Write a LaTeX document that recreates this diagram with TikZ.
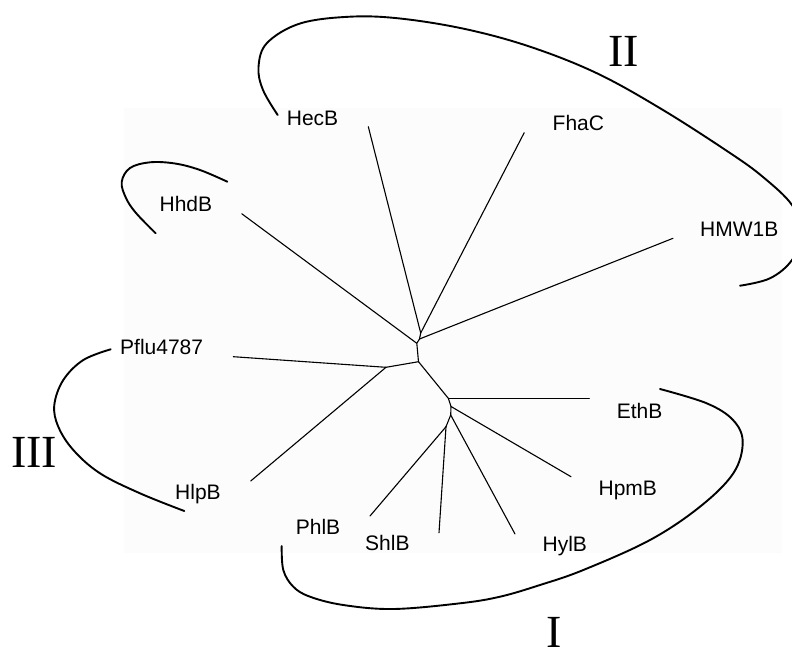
\documentclass[tikz,border=0pt]{standalone}
\usepackage{fontspec}
\setmainfont{Liberation Sans}
\newfontfamily\numfont{Liberation Serif}
\begin{document}
\begin{tikzpicture}[x=1pt,y=-1pt,
  branch/.style={line width=1.1pt, line cap=round},
  clade/.style={line width=1.9pt, line cap=round},
  taxon/.style={anchor=base west, inner sep=0pt, font=\fontsize{21}{25}\selectfont},
  numeral/.style={anchor=base west, inner sep=0pt, font=\numfont\fontsize{46}{50}\selectfont}]
\useasboundingbox (0,0) rectangle (792,648);
\fill[white] (0,0) rectangle (792,648);
\fill[black!1.2] (124,108) rectangle (782,553);

% internal nodes of the tree
\coordinate (nA) at (420.7,333);
\coordinate (nB) at (419.5,339);
\coordinate (nC) at (416.8,343.3);
\coordinate (nD) at (418.5,361.7);
\coordinate (nE) at (386,367.3);
\coordinate (nF) at (448.3,398.3);
\coordinate (nG) at (451,406.5);
\coordinate (nH) at (450.7,415);
\coordinate (nI) at (446,426.7);

% leaf tips
\coordinate (tHecB) at (368.3,126.7);
\coordinate (tFhaC) at (524.2,132.7);
\coordinate (tHMW) at (673,238.3);
\coordinate (tHhdB) at (241.7,213.7);
\coordinate (tPflu) at (233.3,356.7);
\coordinate (tHlpB) at (250.7,481);
\coordinate (tEthB) at (589.3,398.3);
\coordinate (tHpmB) at (571,476.7);
\coordinate (tHylB) at (515,534);
\coordinate (tShlB) at (439,532.7);
\coordinate (tPhlB) at (370,516);

% tree
\draw[branch] (nA) -- (nB) -- (nC) -- (nD) -- (nF) -- (nG) -- (nH) -- (nI);
\draw[branch] (nD) -- (nE);
\draw[branch] (nA) -- (tHecB);
\draw[branch] (nA) -- (tFhaC);
\draw[branch] (nB) -- (tHMW);
\draw[branch] (nC) -- (tHhdB);
\draw[branch] (nE) -- (tPflu);
\draw[branch] (nE) -- (tHlpB);
\draw[branch] (nF) -- (tEthB);
\draw[branch] (nG) -- (tHpmB);
\draw[branch] (nH) -- (tHylB);
\draw[branch] (nI) -- (tShlB);
\draw[branch] (nI) -- (tPhlB);

% labels
\node[taxon] (HecB) at (286.7,125) {HecB};
\node[taxon] (FhaC) at (552.5,130) {FhaC};
\node[taxon] (HhdB) at (159.4,211.7) {HhdB};
\node[taxon] (HMW1B) at (700,236) {HMW1B};
\node[taxon] (Pflu) at (120,354) {Pflu4787};
\node[taxon] (HlpB) at (175,499) {HlpB};
\node[taxon] (EthB) at (616.6,418) {EthB};
\node[taxon] (HpmB) at (598.4,495) {HpmB};
\node[taxon] (PhlB) at (295.7,534.3) {PhlB};
\node[taxon] (ShlB) at (365,550.5) {ShlB};
\node[taxon] (HylB) at (542.4,551.7) {HylB};

% clade arcs
\draw[clade] plot[smooth, tension=0.6] coordinates {(277.7,115) (263,90) (258.5,67) (267,43) (300,23.5) (350,16.7) (400,18.5) (465,29) (530,46.7) (597,73.3) (663,110) (730,153) (763,177) (792,205) (802,233) (792,260) (770,278.3) (740,285.7)};
\draw[clade] plot[smooth, tension=0.6] coordinates {(227.3,181.7) (200,170) (175,163.5) (150,162.3) (130,168) (121.7,182) (126,198) (136,213) (155.7,233.3)};
\draw[clade] plot[smooth, tension=0.6] coordinates {(110.7,349.3) (83.3,360) (63.3,380) (54.3,405) (58.3,426.7) (73.3,450) (100,473.3) (140,493.3) (184.3,511)};
\draw[clade] plot[smooth, tension=0.6] coordinates {(660,389) (706.7,403.3) (733,420) (742.7,442) (733.3,473.3) (700,506.7) (650,540) (583.3,570) (540,585) (500,596.7) (460,603.3) (393.3,609) (343.3,605) (310,596.7) (293.3,586.7) (283.3,570) (281.7,546)};

% clade numerals
\node[numeral] (cII) at (608,66) {II};
\node[numeral] (cIII) at (11,467) {III};
\node[numeral] (cI) at (546,647.5) {I};
\end{tikzpicture}
\end{document}
